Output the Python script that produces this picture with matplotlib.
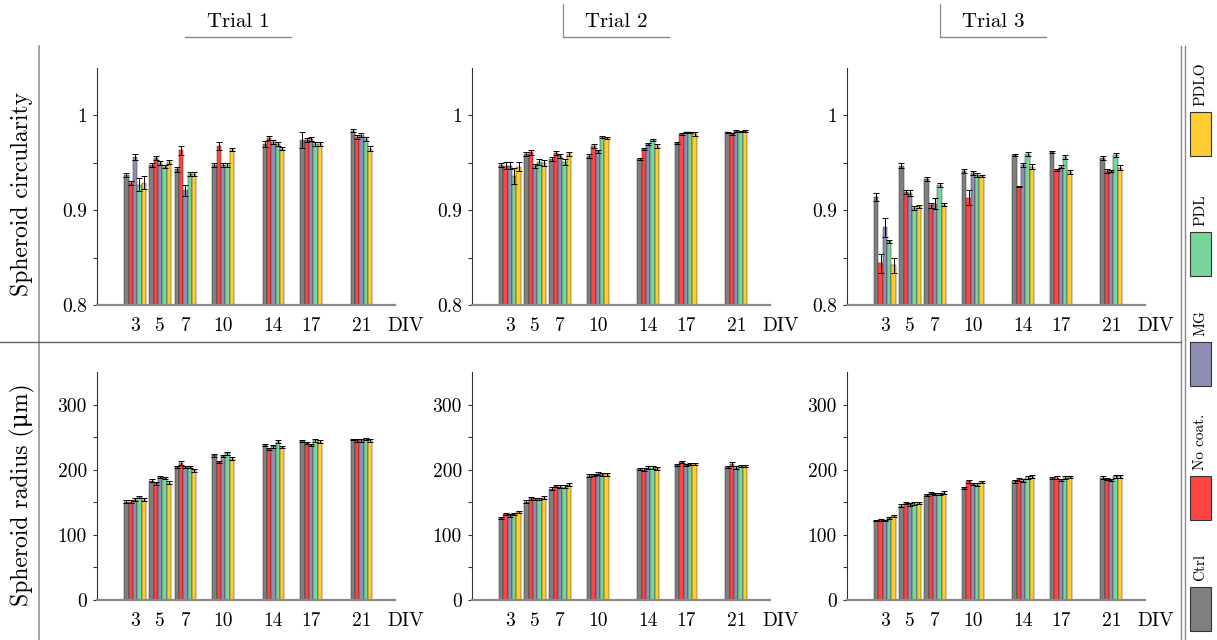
import matplotlib
matplotlib.use("Agg")
import matplotlib.pyplot as plt
import numpy as np
from matplotlib.patches import Rectangle
from matplotlib.lines import Line2D

plt.rcParams['font.family'] = ['cmr10', 'DejaVu Serif']
plt.rcParams['axes.formatter.use_mathtext'] = True

# ---------------- data ----------------
div = [3, 5, 7, 10, 14, 17, 21]
div_labels = ['3', '5', '7', '10', '14', '17', '21']
conditions = ['Ctrl', 'No coat.', 'MG', 'PDL', 'PDLO']
colors = ['#7f7f7f', '#ff4444', '#8f8fb6', '#77d59b', '#ffcb30']
trials = ['Trial 1', 'Trial 2', 'Trial 3']

# circularity, rows = DIV, columns = conditions
circ_t1 = [[0.937, 0.929, 0.956, 0.927, 0.929],
           [0.948, 0.955, 0.950, 0.946, 0.951],
           [0.943, 0.963, 0.921, 0.938, 0.938],
           [0.948, 0.968, 0.948, 0.948, 0.964],
           [0.970, 0.976, 0.972, 0.970, 0.965],
           [0.974, 0.974, 0.975, 0.970, 0.970],
           [0.984, 0.977, 0.979, 0.975, 0.965]]
circ_t1_err = [[0.002, 0.002, 0.003, 0.007, 0.007],
               [0.002, 0.002, 0.002, 0.002, 0.002],
               [0.003, 0.005, 0.006, 0.002, 0.002],
               [0.002, 0.004, 0.002, 0.002, 0.002],
               [0.003, 0.002, 0.002, 0.002, 0.002],
               [0.008, 0.002, 0.002, 0.002, 0.002],
               [0.002, 0.002, 0.002, 0.002, 0.003]]
circ_t2 = [[0.948, 0.947, 0.947, 0.936, 0.946],
           [0.959, 0.961, 0.947, 0.951, 0.950],
           [0.954, 0.960, 0.957, 0.951, 0.959],
           [0.957, 0.968, 0.962, 0.977, 0.976],
           [0.954, 0.965, 0.970, 0.974, 0.968],
           [0.971, 0.980, 0.982, 0.982, 0.980],
           [0.982, 0.980, 0.984, 0.983, 0.984]]
circ_t2_err = [[0.002, 0.004, 0.004, 0.008, 0.005],
               [0.002, 0.003, 0.002, 0.003, 0.003],
               [0.002, 0.002, 0.002, 0.003, 0.002],
               [0.002, 0.002, 0.002, 0.001, 0.001],
               [0.001, 0.001, 0.001, 0.001, 0.002],
               [0.001, 0.001, 0.001, 0.001, 0.002],
               [0.001, 0.001, 0.001, 0.001, 0.001]]
circ_t3 = [[0.914, 0.844, 0.882, 0.867, 0.842],
           [0.947, 0.919, 0.918, 0.902, 0.904],
           [0.933, 0.905, 0.907, 0.927, 0.906],
           [0.941, 0.913, 0.939, 0.937, 0.936],
           [0.958, 0.925, 0.948, 0.959, 0.946],
           [0.961, 0.942, 0.946, 0.956, 0.940],
           [0.955, 0.941, 0.941, 0.958, 0.945]]
circ_t3_err = [[0.004, 0.010, 0.010, 0.002, 0.008],
               [0.003, 0.002, 0.003, 0.002, 0.002],
               [0.002, 0.003, 0.006, 0.002, 0.002],
               [0.002, 0.008, 0.002, 0.002, 0.001],
               [0.001, 0.001, 0.002, 0.002, 0.003],
               [0.001, 0.001, 0.002, 0.002, 0.002],
               [0.002, 0.002, 0.001, 0.002, 0.003]]

# radius (um)
rad_t1 = [[151, 151, 154, 158, 154],
          [183, 179, 189, 187, 180],
          [204, 210, 204, 204, 199],
          [222, 212, 221, 225, 217],
          [238, 232, 236, 243, 235],
          [244, 241, 238, 245, 243],
          [246, 245, 245, 247, 245]]
rad_t1_err = [[2, 2, 2, 2, 2], [2, 2, 2, 2, 2], [2, 3, 2, 2, 2],
              [2, 2, 2, 2, 2], [2, 2, 2, 2, 2], [2, 2, 2, 2, 2],
              [1, 2, 2, 2, 2]]
rad_t2 = [[126, 132, 130, 132, 135],
          [151, 156, 155, 155, 157],
          [171, 175, 174, 174, 177],
          [191, 192, 194, 193, 193],
          [201, 200, 203, 203, 202],
          [207, 212, 207, 209, 209],
          [204, 209, 203, 206, 206]]
rad_t2_err = [[1, 2, 2, 2, 2], [2, 2, 2, 2, 2], [2, 2, 2, 2, 2],
              [2, 2, 2, 2, 2], [2, 2, 2, 2, 2], [2, 2, 2, 2, 2],
              [2, 3, 2, 2, 2]]
rad_t3 = [[122, 123, 122, 126, 129],
          [145, 149, 147, 148, 149],
          [161, 164, 163, 163, 165],
          [172, 182, 178, 177, 181],
          [182, 185, 183, 188, 190],
          [187, 188, 184, 188, 189],
          [188, 186, 184, 190, 190]]
rad_t3_err = [[1, 1, 1, 2, 2], [2, 2, 2, 2, 2], [2, 2, 2, 2, 2],
              [2, 2, 2, 2, 2], [2, 2, 2, 2, 2], [2, 2, 2, 2, 2],
              [2, 2, 2, 2, 2]]

circ_ticks = [0.8, 0.9, 1.0]
circ_ticklabels = ['0.8', '0.9', '1']
rad_ticks = [0, 100, 200, 300]
rad_ticklabels = ['0', '100', '200', '300']

# ---------------- layout ----------------
W, H = 1217, 640
fig = plt.figure(figsize=(W / 100, H / 100), dpi=100)
fig.patch.set_facecolor('white')

ax_left_px = [97.4, 472.2, 847.2]
ax_w_px = 298
rows = [(68, 305), (372, 600)]  # top, bottom in pixels

circ_data = [(circ_t1, circ_t1_err), (circ_t2, circ_t2_err), (circ_t3, circ_t3_err)]
rad_data = [(rad_t1, rad_t1_err), (rad_t2, rad_t2_err), (rad_t3, rad_t3_err)]

bar_w = 0.345
xs = np.array(div, dtype=float)


def draw_panel(ax, vals, errs, ylim, ticks, ticklabels, minor_step):
    vals = np.array(vals)
    errs = np.array(errs)
    n = len(conditions)
    for i in range(n):
        ax.bar(xs + (i - (n - 1) / 2) * bar_w, vals[:, i], bar_w,
               yerr=errs[:, i], color=colors[i], edgecolor='#333333',
               linewidth=0.35, zorder=2,
               error_kw=dict(ecolor='black', elinewidth=0.7, capsize=2.2,
                             capthick=0.7, zorder=3))
    ax.set_xlim(0, 23.7)
    ax.set_ylim(*ylim)
    ax.set_xticks(div)
    ax.set_xticklabels(div_labels)
    ax.set_yticks(ticks)
    ax.set_yticklabels(ticklabels)
    ax.set_yticks(np.arange(ylim[0] + minor_step, ylim[1], minor_step * 2), minor=True)
    ax.tick_params(axis='x', length=0, pad=9, labelsize=14)
    ax.tick_params(axis='y', which='both', length=3, width=0.8, color='#333333',
                   direction='out', pad=4.5, labelsize=14)
    for s in ['top', 'right']:
        ax.spines[s].set_visible(False)
    ax.spines['left'].set_color('#333333')
    ax.spines['left'].set_linewidth(0.8)
    ax.spines['bottom'].set_color('#8a8a8a')
    ax.spines['bottom'].set_linewidth(1.6)
    ax.patch.set_visible(False)
    ax.annotate('DIV', xy=(1, 0), xycoords='axes fraction', xytext=(7.5, -9),
                textcoords='offset points', ha='center', va='top', fontsize=14)


for r, (top, bot) in enumerate(rows):
    for c in range(3):
        ax = fig.add_axes([ax_left_px[c] / W, (H - bot) / H, ax_w_px / W, (bot - top) / H])
        if r == 0:
            v, e = circ_data[c]
            draw_panel(ax, v, e, (0.8, 1.05), circ_ticks, circ_ticklabels, 0.05)
        else:
            v, e = rad_data[c]
            draw_panel(ax, v, e, (0, 350), rad_ticks, rad_ticklabels, 50)

# overlay in pixel coordinates for frame lines, titles and legend
ov = fig.add_axes([0, 0, 1, 1], zorder=-1)
ov.set_xlim(0, W)
ov.set_ylim(H, 0)
ov.axis('off')

gray = '#8a8a8a'
ov.add_line(Line2D([39, 39], [46, H], color=gray, lw=1.1))
ov.add_line(Line2D([1181, 1181], [46, H], color=gray, lw=1.0))
ov.add_line(Line2D([1185, 1185], [46, H], color=gray, lw=1.0))
ov.add_line(Line2D([0, 1181], [342, 342], color='#666666', lw=1.0))

title_centers = [238, 616, 993]
for k, (t, xc) in enumerate(zip(trials, title_centers)):
    ov.text(xc, 22, t, ha='center', va='center', fontsize=15)
    ov.add_line(Line2D([xc - 53, xc + 53], [37, 37], color=gray, lw=1.0))
    if k > 0:
        ov.add_line(Line2D([xc - 53, xc - 53], [4, 37], color=gray, lw=0.9))

fig.text(22 / W, (H - 194) / H, 'Spheroid circularity', rotation=90,
         ha='center', va='center', fontsize=17)
fig.text(22 / W, (H - 495) / H, 'Spheroid radius (μm)', rotation=90,
         ha='center', va='center', fontsize=17)

# legend
leg_tops = [587, 476, 342, 232, 112]
for name, col, ytop in zip(conditions, colors, leg_tops):
    ov.add_patch(Rectangle((1190, ytop), 21, 44, facecolor=col,
                           edgecolor='#333333', lw=0.8))
    ov.text(1200.5, ytop - 6, name, rotation=90, ha='center', va='bottom',
            fontsize=11)

fig.savefig('out.png', dpi=100)
